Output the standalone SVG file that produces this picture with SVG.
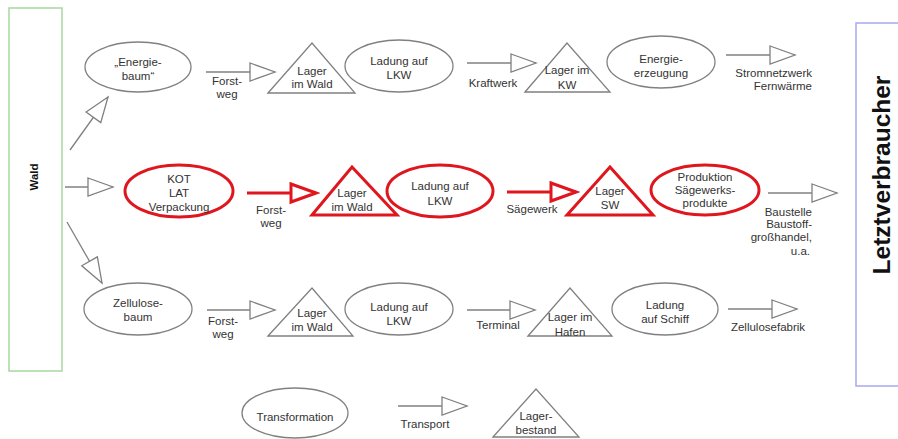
<svg xmlns="http://www.w3.org/2000/svg" width="898" height="439" viewBox="0 0 898 439">
  <style>
    text { font-family: "Liberation Sans", Arial, sans-serif; font-size: 11.5px; fill: #333; text-anchor: middle; }
    .node { fill: #fff; stroke: #808080; stroke-width: 1.3; }
    .hot { fill: #fff; stroke: #e0161e; stroke-width: 3; }
    .conn { stroke: #808080; stroke-width: 1.3; fill: none; marker-end: url(#head); }
    .conn-hot { stroke: #e0161e; stroke-width: 3; fill: none; marker-end: url(#head-hot); }
    .lbl-end { text-anchor: end; }
    .side { font-weight: bold; fill: #111; }
  </style>
  <defs>
    <marker id="head" markerUnits="userSpaceOnUse" markerWidth="30" markerHeight="24" viewBox="-2 -11 30 22" refX="25" refY="0" orient="auto">
      <path d="M0,-9 L25,0 L0,9 Z" fill="#fff" stroke="#808080" stroke-width="1.3"/>
    </marker>
    <marker id="head-hot" markerUnits="userSpaceOnUse" markerWidth="32" markerHeight="26" viewBox="-3 -12 32 24" refX="25" refY="0" orient="auto">
      <path d="M0,-9 L25,0 L0,9 Z" fill="#fff" stroke="#e0161e" stroke-width="3"/>
    </marker>
  </defs>

  <rect width="898" height="439" fill="#fff"/>

  <!-- source and sink -->
  <g id="wald">
    <rect x="9" y="8" width="53" height="363" fill="#fff" stroke="#a8d8a0" stroke-width="1.5"/>
    <text class="side" transform="translate(38,177) rotate(-90)">Wald</text>
  </g>
  <g id="letztverbraucher">
    <rect x="856" y="23" width="50" height="363" fill="#fff" stroke="#a8a8f0" stroke-width="1.5"/>
    <text class="side" style="font-size:24.5px" transform="translate(890,175) rotate(-90)">Letztverbraucher</text>
  </g>

  <!-- connectors -->
  <g id="connectors">
    <line class="conn" x1="70" y1="150" x2="108" y2="97"/>
    <line class="conn" x1="65" y1="187" x2="113" y2="187"/>
    <line class="conn" x1="67" y1="222" x2="102" y2="283"/>

    <line class="conn" x1="206" y1="72" x2="275" y2="72"/>
    <line class="conn" x1="467" y1="63" x2="536" y2="63"/>
    <line class="conn" x1="726" y1="55" x2="795" y2="55"/>

    <line class="conn-hot" x1="247" y1="193" x2="316" y2="193"/>
    <line class="conn-hot" x1="507" y1="192" x2="576" y2="192"/>
    <line class="conn" x1="768" y1="193" x2="837" y2="193"/>

    <line class="conn" x1="207" y1="310" x2="275" y2="310"/>
    <line class="conn" x1="467" y1="310" x2="535" y2="310"/>
    <line class="conn" x1="728" y1="309" x2="797" y2="309"/>

    <line class="conn" x1="398" y1="406" x2="467" y2="406"/>

    <text x="227" y="85">Forst-</text>
    <text x="227" y="98">weg</text>
    <text x="493" y="87">Kraftwerk</text>
    <text class="lbl-end" x="812" y="77">Stromnetzwerk</text>
    <text class="lbl-end" x="812" y="90">Fernwärme</text>

    <text x="271" y="214">Forst-</text>
    <text x="271" y="227">weg</text>
    <text x="532" y="213">Sägewerk</text>
    <text class="lbl-end" x="812" y="216">Baustelle</text>
    <text class="lbl-end" x="812" y="228">Baustoff-</text>
    <text class="lbl-end" x="812" y="241">großhandel,</text>
    <text class="lbl-end" x="810" y="255">u.a.</text>

    <text x="223" y="325">Forst-</text>
    <text x="223" y="338">weg</text>
    <text x="498" y="329">Terminal</text>
    <text x="768" y="331">Zellulosefabrik</text>

    <text x="425" y="428">Transport</text>
  </g>

  <!-- energy wood row -->
  <g id="energiebaum">
    <ellipse class="node" cx="138" cy="67" rx="53" ry="25"/>
    <text x="138" y="66">„Energie-</text>
    <text x="138" y="80">baum“</text>
  </g>
  <g id="lager-wald-1">
    <polygon class="node" points="268,93 312,43 355,93"/>
    <text x="312" y="75">Lager</text>
    <text x="312" y="88">im Wald</text>
  </g>
  <g id="ladung-lkw-1">
    <ellipse class="node" cx="399" cy="66" rx="54" ry="26"/>
    <text x="399" y="65">Ladung auf</text>
    <text x="399" y="79">LKW</text>
  </g>
  <g id="lager-kw">
    <polygon class="node" points="525,92 567,43 610,92"/>
    <text x="567" y="74">Lager im</text>
    <text x="567" y="89">KW</text>
  </g>
  <g id="energieerzeugung">
    <ellipse class="node" cx="661" cy="62" rx="54" ry="26"/>
    <text x="661" y="63">Energie-</text>
    <text x="661" y="77">erzeugung</text>
  </g>

  <!-- sawmill row -->
  <g id="kot-lat">
    <ellipse class="hot" cx="179" cy="191" rx="54" ry="26"/>
    <text x="179" y="183">KOT</text>
    <text x="179" y="197">LAT</text>
    <text x="179" y="211">Verpackung</text>
  </g>
  <g id="lager-wald-2">
    <polygon class="hot" points="312,215 352,167 397,215"/>
    <text x="352" y="197">Lager</text>
    <text x="352" y="211">im Wald</text>
  </g>
  <g id="ladung-lkw-2">
    <ellipse class="hot" cx="440" cy="191" rx="53" ry="26"/>
    <text x="440" y="190">Ladung auf</text>
    <text x="440" y="205">LKW</text>
  </g>
  <g id="lager-sw">
    <polygon class="hot" points="567,215 610,167 653,215"/>
    <text x="610" y="195">Lager</text>
    <text x="610" y="209">SW</text>
  </g>
  <g id="produktion">
    <ellipse class="hot" cx="705" cy="190" rx="54" ry="25"/>
    <text x="705" y="181">Produktion</text>
    <text x="705" y="194">Sägewerks-</text>
    <text x="705" y="207">produkte</text>
  </g>

  <!-- pulpwood row -->
  <g id="zellulosebaum">
    <ellipse class="node" cx="138" cy="309" rx="54" ry="26"/>
    <text x="138" y="307">Zellulose-</text>
    <text x="138" y="321">baum</text>
  </g>
  <g id="lager-wald-3">
    <polygon class="node" points="268,336 312,288 353,336"/>
    <text x="312" y="317">Lager</text>
    <text x="312" y="331">im Wald</text>
  </g>
  <g id="ladung-lkw-3">
    <ellipse class="node" cx="399" cy="309" rx="54" ry="26"/>
    <text x="399" y="311">Ladung auf</text>
    <text x="399" y="325">LKW</text>
  </g>
  <g id="lager-hafen">
    <polygon class="node" points="528,336 570,288 612,336"/>
    <text x="570" y="321">Lager im</text>
    <text x="570" y="336">Hafen</text>
  </g>
  <g id="ladung-schiff">
    <ellipse class="node" cx="665" cy="309" rx="53" ry="26"/>
    <text x="665" y="309">Ladung</text>
    <text x="665" y="323">auf Schiff</text>
  </g>

  <!-- legend -->
  <g id="legend-transformation">
    <ellipse class="node" cx="295" cy="413" rx="53" ry="25"/>
    <text x="295" y="421">Transformation</text>
  </g>
  <g id="legend-lagerbestand">
    <polygon class="node" points="493,437 536,389 579,437"/>
    <text x="536" y="420">Lager-</text>
    <text x="536" y="434">bestand</text>
  </g>
</svg>
